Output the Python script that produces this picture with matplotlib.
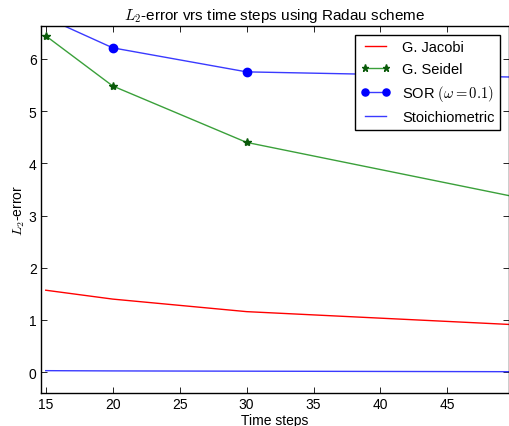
import matplotlib
matplotlib.use("Agg")
import matplotlib.pyplot as plt

plt.rcParams['font.family'] = ['Liberation Sans', 'DejaVu Sans']
plt.rcParams['mathtext.fontset'] = 'cm'
plt.rcParams['xtick.direction'] = 'in'
plt.rcParams['ytick.direction'] = 'in'
plt.rcParams['xtick.top'] = True
plt.rcParams['ytick.right'] = True

steps = [15, 20, 30, 50]
jacobi = [1.57, 1.40, 1.16, 0.91]
seidel = [6.44, 5.48, 4.40, 3.36]
sor = [6.79, 6.21, 5.75, 5.65]
stoich = [0.03, 0.025, 0.02, 0.01]

fig = plt.figure(figsize=(5.1, 4.27), dpi=100)
fig.subplots_adjust(left=0.080, right=0.998, top=0.937, bottom=0.077)
ax = fig.add_subplot(111)

ax.plot(steps, jacobi, color='red', lw=1.0, label='G. Jacobi')
ax.plot(steps, seidel, color='#3aa03a', lw=1.0, marker='*', markersize=6,
        markerfacecolor='#0a5a0a', markeredgecolor='#0a5a0a', label='G. Seidel')
ax.plot(steps, sor, color='#3a3aff', lw=1.0, marker='o', markersize=6,
        markerfacecolor='blue', markeredgecolor='blue', label=r'SOR $(\omega=0.1)$')
ax.plot(steps, stoich, color='#3a3aff', lw=1.0, label='Stoichiometric')

ax.set_xlim(14.63, 49.6)
ax.set_ylim(-0.4, 6.63)
ax.set_xticks([15, 20, 25, 30, 35, 40, 45])
ax.set_yticks([0, 1, 2, 3, 4, 5, 6])
ax.tick_params(labelsize=10, length=4, width=0.6, pad=3)
for s in ax.spines.values():
    s.set_linewidth(1.0)

ax.set_title(r'$L_2$-error vrs time steps using Radau scheme', fontsize=11, pad=5)
ax.set_xlabel('Time steps', fontsize=10, labelpad=1)
ax.set_ylabel(r'$L_2$-error', fontsize=10, labelpad=1)

leg = ax.legend(loc='upper right', fontsize=10.5, fancybox=False, framealpha=1,
                edgecolor='black', borderaxespad=0.6, handlelength=2.0,
                numpoints=2, markerscale=0.85, labelspacing=0.5)
leg.get_frame().set_linewidth(1.0)

fig.savefig('out.png', dpi=100, facecolor='white')
